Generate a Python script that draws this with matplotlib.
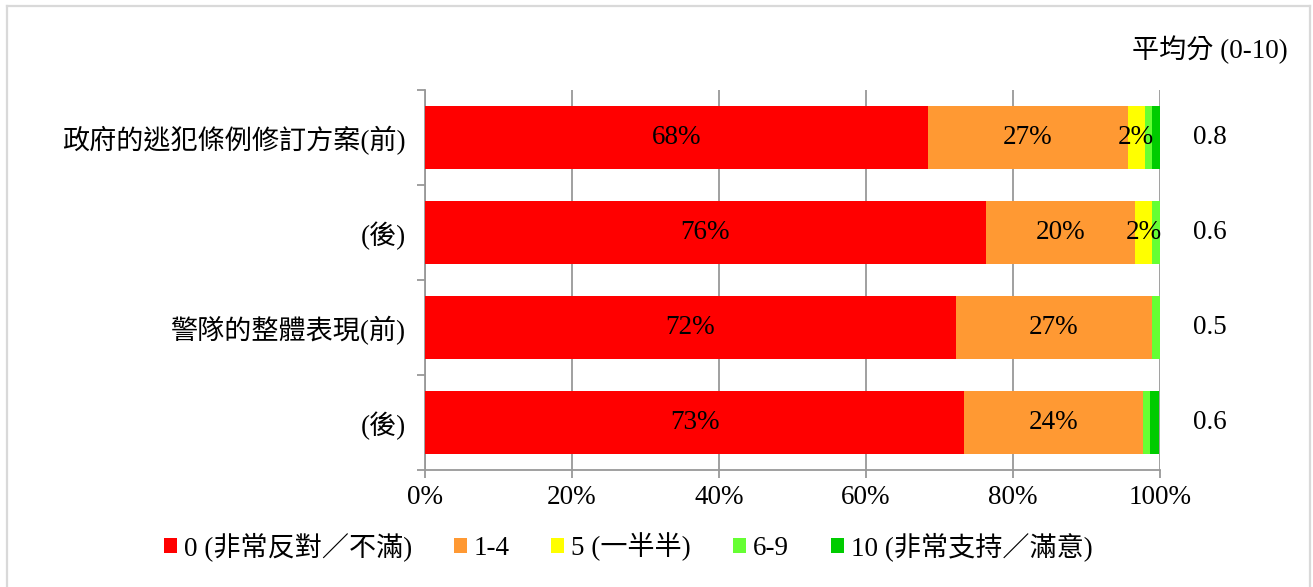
import numpy as np
import matplotlib
matplotlib.use("Agg")
import matplotlib.pyplot as plt
from matplotlib.patches import Patch
from matplotlib.lines import Line2D
import matplotlib.transforms as mtransforms

plt.rcParams['font.family'] = ['Liberation Serif', 'Noto Sans CJK TC', 'DejaVu Sans']

categories = ['政府的逃犯條例修訂方案(前)', '(後)', '警隊的整體表現(前)', '(後)']
series_names = ['0 (非常反對／不滿)', '1-4', '5 (一半半)', '6-9', '10 (非常支持／滿意)']
# percent values per category, one list per series
s0 = [68.4, 76.3, 72.2, 73.4]
s1_4 = [27.2, 20.3, 26.7, 24.3]
s5 = [2.3, 2.3, 0.0, 0.0]
s6_9 = [1.0, 1.1, 1.1, 1.0]
s10 = [1.1, 0.0, 0.0, 1.2]
averages = ['0.8', '0.6', '0.5', '0.6']
colors = ['#FF0000', '#FF9933', '#FFFF00', '#66FF33', '#00CC00']

series = [s0, s1_4, s5, s6_9, s10]
fs = 19.5
grey = '#999999'

fig = plt.figure(figsize=(13.13, 5.87), dpi=100)
ax = fig.add_axes([425 / 1313, 1 - 470 / 587, 735 / 1313, 380 / 587])

y = np.arange(len(categories))
left = np.zeros(len(categories))
for vals, col in zip(series, colors):
    v = np.array(vals) / 100.0
    ax.barh(y, v, left=left, height=0.66, color=col, zorder=3)
    for i, val in enumerate(vals):
        if round(val) >= 2:
            ax.text(left[i] + v[i] / 2, y[i], f'{round(val)}%', ha='center', va='center',
                    fontsize=fs, color='black', zorder=4)
    left += v

ax.set_xlim(0, 1)
ax.set_ylim(3.5, -0.5)
ax.set_xticks(np.arange(0, 1.01, 0.2))
ax.set_xticklabels([f'{int(t * 100)}%' for t in np.arange(0, 1.01, 0.2)], fontsize=fs)
ax.set_yticks(y)
ax.set_yticklabels(categories, fontsize=fs)
ax.set_yticks(np.arange(-0.5, 3.6, 1.0), minor=True)
ax.tick_params(axis='y', which='major', length=0, pad=14)
ax.tick_params(axis='y', which='minor', length=6, color=grey, width=1.3)
ax.tick_params(axis='x', which='major', length=6, color=grey, width=1.3, pad=5)
ax.grid(axis='x', color=grey, linewidth=1.3, zorder=0)
for s in ['top', 'right']:
    ax.spines[s].set_visible(False)
for s in ['left', 'bottom']:
    ax.spines[s].set_color(grey)
    ax.spines[s].set_linewidth(1.3)

trans = mtransforms.blended_transform_factory(ax.transAxes, ax.transData)
for i, a in enumerate(averages):
    ax.text(1.068, y[i], a, transform=trans, ha='center', va='center', fontsize=fs)
fig.text(1210 / 1313, 1 - 50 / 587, '平均分 (0-10)', ha='center', va='center', fontsize=fs)

handles = [Patch(facecolor=c, edgecolor='none') for c in colors]
fig.legend(handles, series_names, loc='center', bbox_to_anchor=(628 / 1313, 1 - 547 / 587),
           ncol=5, frameon=False, fontsize=fs, handlelength=0.48, handleheight=0.48,
           handletextpad=0.25, columnspacing=1.55, borderaxespad=0)

# light frame around the chart area
for xs, ys in [([7, 7], [0, 581]), ([7, 1310], [581, 581]), ([1310, 1310], [581, 0])]:
    fig.add_artist(Line2D(np.array(xs) / 1313, np.array(ys) / 587, color='#d9d9d9',
                          linewidth=1.6, transform=fig.transFigure))

fig.savefig('out.png', dpi=100)
